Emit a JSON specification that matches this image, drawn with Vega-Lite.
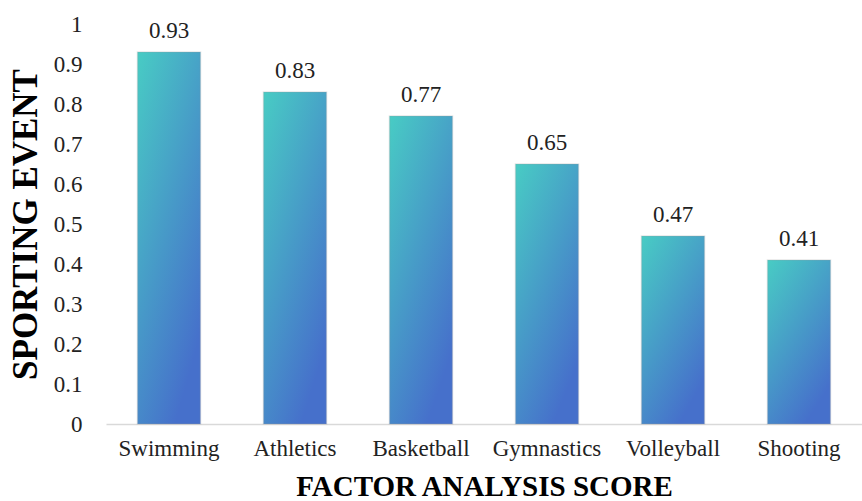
{
  "$schema": "https://vega.github.io/schema/vega-lite/v6.json",
  "width": 756,
  "height": 400,
  "autosize": {"type": "none"},
  "padding": {"left": 106, "top": 24, "right": 0, "bottom": 77},
  "background": "white",
  "config": {
    "view": {"stroke": null},
    "font": "Liberation Serif"
  },
  "data": {
    "values": [
      {"sport": "Swimming", "score": 0.93},
      {"sport": "Athletics", "score": 0.83},
      {"sport": "Basketball", "score": 0.77},
      {"sport": "Gymnastics", "score": 0.65},
      {"sport": "Volleyball", "score": 0.47},
      {"sport": "Shooting", "score": 0.41}
    ]
  },
  "encoding": {
    "x": {
      "field": "sport",
      "type": "nominal",
      "sort": null,
      "scale": {"paddingInner": 0.5, "paddingOuter": 0.25},
      "axis": {
        "title": "FACTOR ANALYSIS SCORE",
        "titleFont": "Liberation Serif",
        "titleFontSize": 29,
        "titleFontWeight": "bold",
        "titleColor": "#000000",
        "titlePadding": 12,
        "labelAngle": 0,
        "labelFont": "Liberation Serif",
        "labelFontSize": 23,
        "labelColor": "#222222",
        "labelPadding": 13,
        "ticks": false,
        "domainColor": "#d9d9d9",
        "domainWidth": 1.5
      }
    },
    "y": {
      "field": "score",
      "type": "quantitative",
      "scale": {"domain": [0, 1], "nice": false},
      "axis": {
        "title": "SPORTING EVENT",
        "titleFont": "Liberation Serif",
        "titleFontSize": 35,
        "titleFontWeight": "bold",
        "titleColor": "#000000",
        "titleX": -81,
        "titleY": 200,
        "titleAngle": -90,
        "titleAlign": "center",
        "titleBaseline": "middle",
        "values": [0, 0.1, 0.2, 0.3, 0.4, 0.5, 0.6, 0.7, 0.8, 0.9, 1],
        "format": "~g",
        "labelFont": "Liberation Serif",
        "labelFontSize": 23,
        "labelColor": "#222222",
        "labelPadding": 24,
        "ticks": false,
        "domain": false,
        "grid": false
      }
    }
  },
  "layer": [
    {
      "mark": {
        "type": "bar",
        "color": {
          "gradient": "linear",
          "x1": 0,
          "y1": 0,
          "x2": 0.6,
          "y2": 1,
          "stops": [
            {"offset": 0, "color": "#48CCC4"},
            {"offset": 1, "color": "#4670CB"}
          ]
        },
        "stroke": "#9a9a9a",
        "strokeOpacity": 0.25,
        "strokeWidth": 1.5
      }
    },
    {
      "mark": {
        "type": "text",
        "baseline": "alphabetic",
        "dy": -14,
        "font": "Liberation Serif",
        "fontSize": 23,
        "color": "#222222"
      },
      "encoding": {
        "text": {"field": "score", "type": "quantitative", "format": ".2f"}
      }
    }
  ]
}
